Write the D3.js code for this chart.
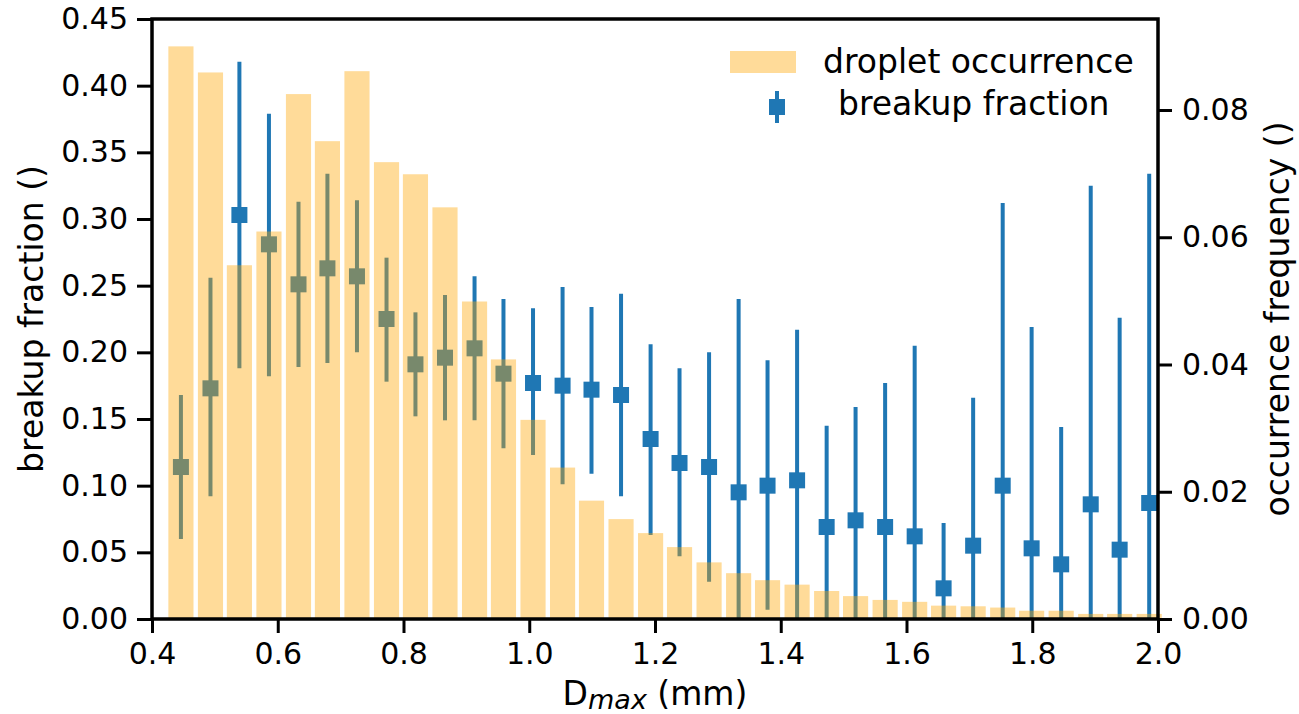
<!DOCTYPE html>
<html>
<head>
<meta charset="utf-8">
<script src="https://cdn.jsdelivr.net/npm/d3@7"></script>
<style>
  body { margin: 0; background: #fff; }
  svg { font-family: "DejaVu Sans", sans-serif; }
</style>
</head>
<body>
<svg id="chart" width="1299" height="714"></svg>
<script>
// bin centres (mm)
var dmax = [0.446, 0.493, 0.539, 0.586, 0.633, 0.679, 0.726, 0.773, 0.819, 0.866,
            0.913, 0.959, 1.006, 1.053, 1.099, 1.146, 1.193, 1.239, 1.286, 1.333,
            1.379, 1.426, 1.473, 1.519, 1.566, 1.613, 1.659, 1.706, 1.753, 1.799,
            1.846, 1.893, 1.939, 1.986];

// droplet occurrence (right axis)
var occurrence = [0.0900, 0.0859, 0.0556, 0.0609, 0.0825, 0.0751, 0.0861, 0.0718, 0.0699, 0.0647,
                  0.0499, 0.0408, 0.0313, 0.0238, 0.0186, 0.0157, 0.0135, 0.0113, 0.0089, 0.0072,
                  0.0061, 0.0054, 0.0044, 0.0036, 0.0030, 0.0027, 0.0021, 0.0020, 0.0018, 0.0013,
                  0.0013, 0.0008, 0.0008, 0.0008];

// breakup fraction (left axis) with error bar ends
var breakup = [0.114, 0.173, 0.303, 0.281, 0.251, 0.263, 0.257, 0.225, 0.191, 0.196,
               0.203, 0.184, 0.177, 0.175, 0.172, 0.168, 0.135, 0.117, 0.114, 0.095,
               0.100, 0.104, 0.069, 0.074, 0.069, 0.062, 0.023, 0.055, 0.100, 0.053,
               0.041, 0.086, 0.052, 0.087];
var errLow = [0.060, 0.092, 0.188, 0.182, 0.189, 0.192, 0.200, 0.178, 0.152, 0.149,
              0.149, 0.128, 0.123, 0.101, 0.109, 0.092, 0.063, 0.047, 0.028, 0.000,
              0.007, 0.000, 0.000, 0.000, 0.000, 0.000, 0.000, 0.000, 0.000, 0.000,
              0.000, 0.000, 0.000, 0.000];
var errHigh = [0.168, 0.256, 0.418, 0.379, 0.313, 0.334, 0.314, 0.271, 0.230, 0.243,
               0.257, 0.240, 0.233, 0.249, 0.234, 0.244, 0.206, 0.188, 0.200, 0.240,
               0.194, 0.217, 0.145, 0.159, 0.177, 0.205, 0.072, 0.166, 0.312, 0.219,
               0.144, 0.325, 0.226, 0.334];

var xTicks = [0.4, 0.6, 0.8, 1.0, 1.2, 1.4, 1.6, 1.8, 2.0];
var yTicks = [0, 0.05, 0.10, 0.15, 0.20, 0.25, 0.30, 0.35, 0.40, 0.45];
var y2Ticks = [0, 0.02, 0.04, 0.06, 0.08];

var blue = "#1f77b4";
var orange = "#ffa500";

var margin = {left: 152, right: 141, top: 19, bottom: 95};
var svg = d3.select("#chart");
var W = 1299 - margin.left - margin.right;
var H = 714 - margin.top - margin.bottom;

var x = d3.scaleLinear().domain([0.4, 2.0]).range([0, W]);
var y = d3.scaleLinear().domain([0, 0.45]).range([H, 0]);
var y2 = d3.scaleLinear().domain([0, 0.0943]).range([H, 0]);

var g = svg.append("g").attr("transform", "translate(" + margin.left + "," + margin.top + ")");

var pts = dmax.map(function(d, i) {
  return {x: d, v: breakup[i], lo: errLow[i], hi: errHigh[i], occ: occurrence[i]};
});

// error bars + markers first
g.append("g").selectAll("line")
  .data(pts)
  .enter()
  .append("line")
  .attr("x1", d => x(d.x))
  .attr("x2", d => x(d.x))
  .attr("y1", d => y(d.lo))
  .attr("y2", d => y(d.hi))
  .attr("stroke", blue)
  .attr("stroke-width", 4);

var ms = 16;
g.append("g").selectAll("rect")
  .data(pts)
  .enter()
  .append("rect")
  .attr("x", d => x(d.x) - ms / 2)
  .attr("y", d => y(d.v) - ms / 2)
  .attr("width", ms)
  .attr("height", ms)
  .attr("fill", blue);

// occurrence bars on top, translucent
var bw = x(0.4 + 0.0400) - x(0.4);
g.append("g").selectAll("rect")
  .data(pts)
  .enter()
  .append("rect")
  .attr("x", d => x(d.x) - bw / 2)
  .attr("y", d => y2(d.occ))
  .attr("width", bw)
  .attr("height", d => H - y2(d.occ))
  .attr("fill", orange)
  .attr("fill-opacity", 0.4);

// axes
function styleAxis(sel) {
  sel.select(".domain").remove();
  sel.selectAll(".tick line").attr("stroke", "#000").attr("stroke-width", 3);
  sel.selectAll(".tick text").attr("fill", "#000").style("font-size", "30px")
    .style("font-family", "DejaVu Sans, sans-serif");
}

g.append("g")
  .attr("transform", "translate(0," + H + ")")
  .call(d3.axisBottom(x).tickValues(xTicks).tickFormat(d3.format(".1f")).tickSize(14).tickPadding(10))
  .call(styleAxis);

g.append("g")
  .call(d3.axisLeft(y).tickValues(yTicks).tickFormat(d3.format(".2f")).tickSize(15).tickPadding(9))
  .call(styleAxis);

g.append("g")
  .attr("transform", "translate(" + W + ",0)")
  .call(d3.axisRight(y2).tickValues(y2Ticks).tickFormat(d3.format(".2f")).tickSize(14).tickPadding(10))
  .call(styleAxis);

// frame
g.append("rect")
  .attr("x", 0).attr("y", 0)
  .attr("width", W).attr("height", H)
  .attr("fill", "none")
  .attr("stroke", "#000")
  .attr("stroke-width", 3.5);

// axis titles
svg.append("text")
  .attr("transform", "translate(43," + (margin.top + H / 2) + ") rotate(-90)")
  .attr("text-anchor", "middle")
  .style("font-size", "33px")
  .text("breakup fraction ()");

svg.append("text")
  .attr("transform", "translate(1289," + (margin.top + H / 2) + ") rotate(-90)")
  .attr("text-anchor", "middle")
  .style("font-size", "33px")
  .text("occurrence frequency ()");

var xl = svg.append("text")
  .attr("x", margin.left + W / 2)
  .attr("y", 705)
  .attr("text-anchor", "middle")
  .style("font-size", "33px");
xl.append("tspan").text("D");
xl.append("tspan").attr("dy", 4).style("font-size", "27px").style("font-style", "italic").text("max");
xl.append("tspan").attr("dy", -4).text(" (mm)");

// legend
var lg = svg.append("g");
lg.append("rect")
  .attr("x", 730).attr("y", 51).attr("width", 66).attr("height", 22)
  .attr("fill", orange).attr("fill-opacity", 0.4);
lg.append("text").attr("x", 823).attr("y", 73).style("font-size", "33px").text("droplet occurrence");
lg.append("line")
  .attr("x1", 777).attr("x2", 777).attr("y1", 91).attr("y2", 123)
  .attr("stroke", blue).attr("stroke-width", 4);
lg.append("rect")
  .attr("x", 777 - 8).attr("y", 107 - 8).attr("width", 16).attr("height", 16)
  .attr("fill", blue);
lg.append("text").attr("x", 838).attr("y", 115).style("font-size", "33px").text("breakup fraction");
</script>
</body>
</html>
